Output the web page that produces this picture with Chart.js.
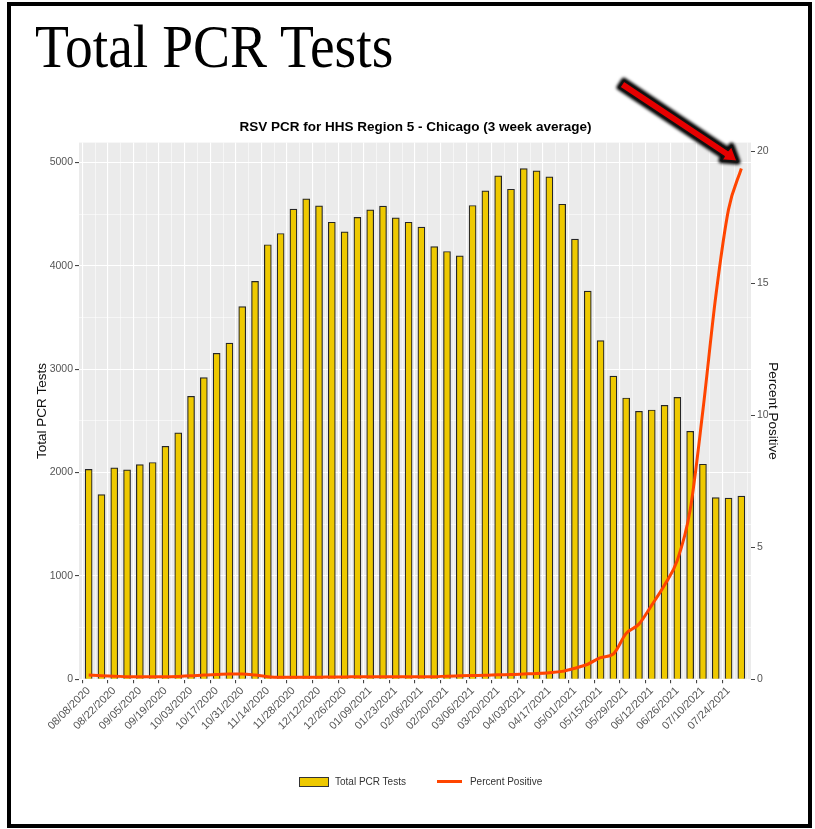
<!DOCTYPE html>
<html>
<head>
<meta charset="utf-8">
<script src="https://cdn.jsdelivr.net/npm/chart.js@4.4.0/dist/chart.umd.min.js"></script>
<style>
  body { margin: 0; background: #fff; }
  #wrap { position: relative; width: 815px; height: 829px; overflow: hidden; background: #fff; }
  #chart { position: absolute; left: 0; top: 0; }
  #frame { position: absolute; left: 7px; top: 2px; width: 805px; height: 826px; box-sizing: border-box; border: 4px solid #000; pointer-events: none; }
  #bigTitle { position: absolute; left: 35px; top: 17px; font-family: 'Liberation Serif', serif; font-size: 61px; line-height: 60px; color: #000; transform: scaleX(0.91); transform-origin: left top; white-space: nowrap; }
  #arrow { position: absolute; left: 0; top: 0; pointer-events: none; }
  #legend { position: absolute; left: 299px; top: 776px; display: flex; align-items: center; font-family: 'Liberation Sans', Arial, sans-serif; font-size: 10px; color: #333; }
  #legend .box { width: 30px; height: 10px; box-sizing: border-box; background: #EEC900; border: 1.5px solid #333; }
  #legend .line { width: 25px; height: 3px; background: #FF4500; margin-left: 31px; }
  #legend .txt { margin-left: 6px; }
</style>
</head>
<body>
<div id="wrap">
  <canvas id="chart" width="815" height="829"></canvas>
  <div id="bigTitle">Total PCR Tests</div>
  <div id="legend">
    <span class="box"></span><span class="txt">Total PCR Tests</span>
    <span class="line"></span><span class="txt" style="margin-left:8px">Percent Positive</span>
  </div>
  <svg id="arrow" width="815" height="829">
    <defs><filter id="soft"><feGaussianBlur stdDeviation="1.5"/></filter></defs>
    <polygon points="623.9,80.7 728.1,150.2 731.6,145.8 737.5,161.5 721.4,160.2 723.9,156.5 619.5,87.3"
      fill="#000" stroke="#000" stroke-width="6" stroke-linejoin="round" filter="url(#soft)"/>
    <polygon points="623.9,80.7 728.1,150.2 731.6,145.8 737.5,161.5 721.4,160.2 723.9,156.5 619.5,87.3"
      fill="#E60000" stroke="#111" stroke-width="2" stroke-linejoin="round"/>
  </svg>
  <div id="frame"></div>
</div>
<script>
// Weekly data, HHS Region 5 - Chicago
const weeks = [
  "08/08/2020", "08/15/2020", "08/22/2020", "08/29/2020", "09/05/2020", "09/12/2020", "09/19/2020", "09/26/2020",
  "10/03/2020", "10/10/2020", "10/17/2020", "10/24/2020", "10/31/2020", "11/07/2020", "11/14/2020", "11/21/2020",
  "11/28/2020", "12/05/2020", "12/12/2020", "12/19/2020", "12/26/2020", "01/02/2021", "01/09/2021", "01/16/2021",
  "01/23/2021", "01/30/2021", "02/06/2021", "02/13/2021", "02/20/2021", "02/27/2021", "03/06/2021", "03/13/2021",
  "03/20/2021", "03/27/2021", "04/03/2021", "04/10/2021", "04/17/2021", "04/24/2021", "05/01/2021", "05/08/2021",
  "05/15/2021", "05/22/2021", "05/29/2021", "06/05/2021", "06/12/2021", "06/19/2021", "06/26/2021", "07/03/2021",
  "07/10/2021", "07/17/2021", "07/24/2021", "07/31/2021"
];
const totalTests = [
  2030, 1787, 2045, 2025, 2077, 2097, 2254, 2383, 2737, 2918, 3153, 3252, 3604, 3848, 4203, 4312,
  4547, 4647, 4580, 4421, 4328, 4467, 4541, 4576, 4464, 4421, 4373, 4186, 4138, 4096, 4583, 4724,
  4869, 4740, 4940, 4918, 4860, 4595, 4257, 3755, 3275, 2933, 2721, 2592, 2605, 2650, 2727, 2399,
  2080, 1758, 1752, 1771
];
const percentPositive = [
  0.16, 0.13, 0.12, 0.1, 0.1, 0.1, 0.1, 0.11, 0.13, 0.16, 0.18, 0.2, 0.2, 0.16, 0.1, 0.08,
  0.08, 0.08, 0.08, 0.09, 0.09, 0.1, 0.1, 0.1, 0.1, 0.1, 0.1, 0.1, 0.12, 0.13, 0.14, 0.15,
  0.17, 0.18, 0.2, 0.22, 0.25, 0.3, 0.42, 0.57, 0.82, 0.96, 1.74, 2.09, 2.81, 3.57, 4.51, 6.41,
  10.2, 14.5, 17.8, 19.35
];
const leftTicks = [0, 1000, 2000, 3000, 4000, 5000];
const rightTicks = [0, 5, 10, 15, 20];

const FONT = "'Liberation Sans', Arial, sans-serif";

// grey ggplot panel
const panelBg = {
  id: "panelBg",
  beforeDraw(chart) {
    const a = chart.chartArea, c = chart.ctx;
    c.save();
    c.fillStyle = "#EBEBEB";
    c.fillRect(a.left, a.top, a.right - a.left, a.bottom - a.top);
    c.restore();
  }
};

new Chart(document.getElementById("chart"), {
  type: "bar",
  data: {
    datasets: [
      {
        type: "line",
        label: "Percent Positive",
        data: percentPositive.map((v, i) => ({ x: i, y: v })),
        yAxisID: "y1",
        borderColor: "#FF4500",
        borderWidth: 3,
        pointRadius: 0,
        cubicInterpolationMode: "monotone",
        order: 0
      },
      {
        label: "Total PCR Tests",
        data: totalTests.map((v, i) => ({ x: i, y: v })),
        yAxisID: "y",
        backgroundColor: "#EEC900",
        borderColor: "#262626",
        borderWidth: 1.2,
        barThickness: 7,
        order: 1
      }
    ]
  },
  options: {
    responsive: false,
    animation: false,
    layout: { padding: { left: 16, right: 0, top: 0, bottom: 69.7 } },
    plugins: {
      legend: { display: false },
      tooltip: { enabled: false },
      title: {
        display: true,
        text: "RSV PCR for HHS Region 5 - Chicago (3 week average)",
        color: "#000",
        font: { family: FONT, size: 13.5, weight: "bold" },
        padding: { top: 118.7, bottom: 7.7 }
      }
    },
    scales: {
      x: {
        type: "linear",
        min: -0.25,
        max: 51.25,
        afterBuildTicks: s => { s.ticks = weeks.map((_, i) => ({ value: i })); },
        afterFit: s => { s.height = 80; },
        border: { display: false },
        grid: {
          color: "#fff",
          lineWidth: c => (c.tick && c.tick.value % 2 === 0 ? 1.1 : 0.55),
          tickColor: c => (c.tick && c.tick.value % 2 === 0 ? "#444" : "rgba(0,0,0,0)"),
          tickLength: 4
        },
        ticks: {
          autoSkip: false,
          minRotation: 45,
          maxRotation: 45,
          padding: 1,
          color: "#555",
          font: { family: FONT, size: 11 },
          callback: v => (v % 2 === 0 ? weeks[v] : "")
        }
      },
      y: {
        position: "left",
        min: 0,
        max: 5191,
        afterBuildTicks: s => {
          const t = [];
          leftTicks.forEach(v => { t.push({ value: v }); if (v < 5000) t.push({ value: v + 500 }); });
          s.ticks = t;
        },
        afterFit: s => { s.width = 63; },
        border: { display: false },
        grid: {
          color: "#fff",
          lineWidth: c => (c.tick && c.tick.value % 1000 === 0 ? 1.1 : 0.55),
          tickColor: c => (c.tick && c.tick.value % 1000 === 0 ? "#444" : "rgba(0,0,0,0)"),
          tickLength: 4
        },
        ticks: {
          padding: 2,
          color: "#555",
          font: { family: FONT, size: 10.5 },
          callback: v => (leftTicks.includes(v) ? v : "")
        },
        title: {
          display: true,
          text: "Total PCR Tests",
          color: "#111",
          font: { family: FONT, size: 13.5 },
          padding: { top: 17.9, bottom: 0 }
        }
      },
      y1: {
        position: "right",
        min: 0,
        max: 20.33,
        afterBuildTicks: s => { s.ticks = rightTicks.map(v => ({ value: v })); },
        afterFit: s => { s.width = 64; },
        border: { display: false },
        grid: { drawOnChartArea: false, tickColor: "#444", tickLength: 4 },
        ticks: {
          padding: 2,
          color: "#555",
          font: { family: FONT, size: 10.5 }
        },
        title: {
          display: true,
          text: "Percent Positive",
          color: "#111",
          font: { family: FONT, size: 13.5 },
          padding: { top: 33.9, bottom: 0 }
        }
      }
    }
  },
  plugins: [panelBg]
});
</script>
</body>
</html>
